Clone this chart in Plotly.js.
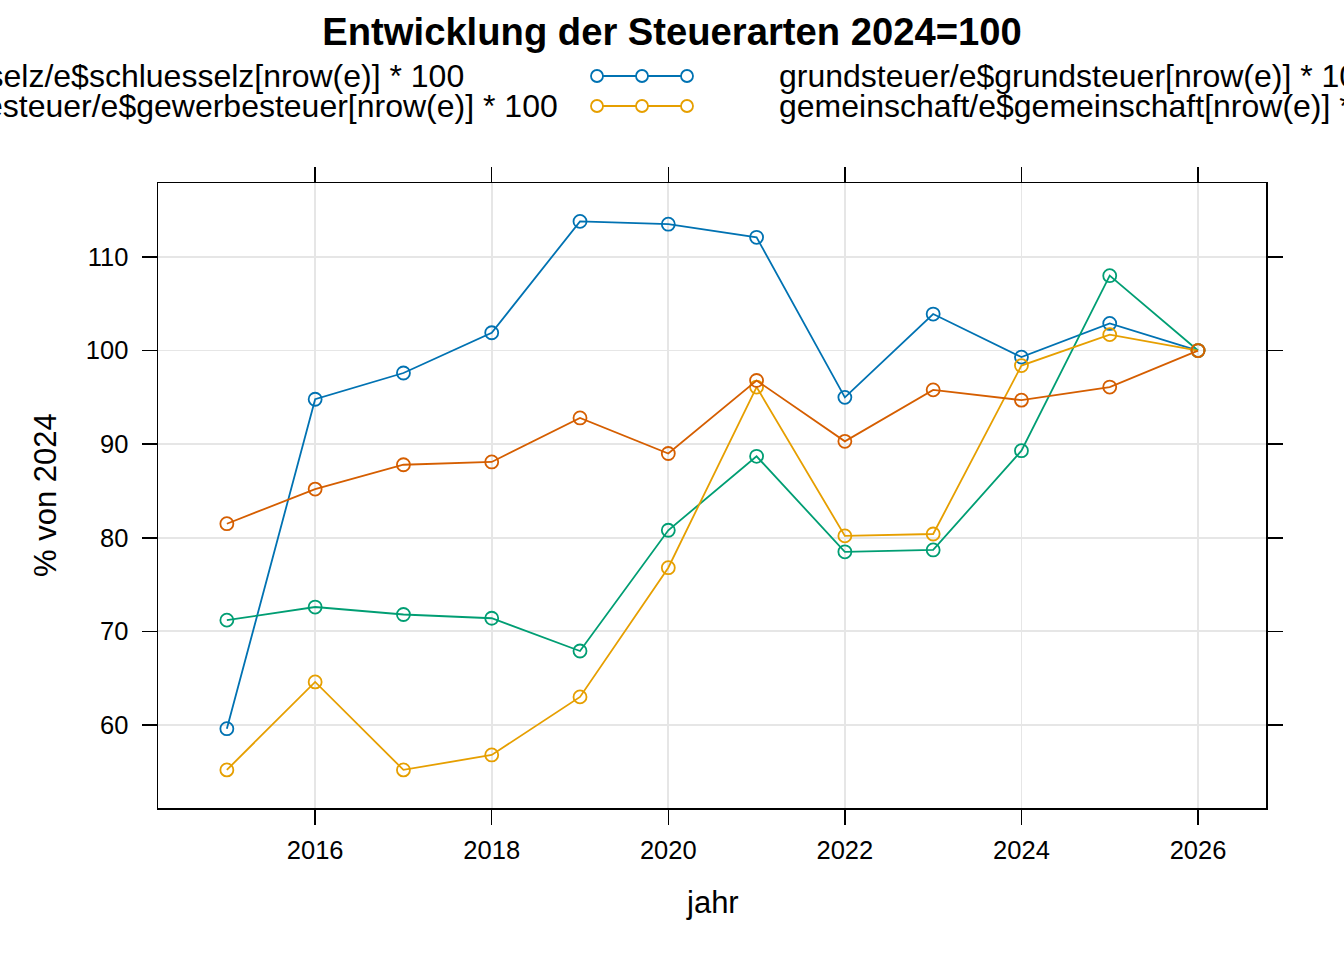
<!DOCTYPE html>
<html><head><meta charset="utf-8">
<script src="https://cdn.plot.ly/plotly-3.0.1.min.js"></script>
<style>html,body{margin:0;padding:0;background:#fff}#chart{width:1344px;height:960px}</style>
</head><body><div id="chart"></div><script>
const jahr = [2015, 2016, 2017, 2018, 2019, 2020, 2021, 2022, 2023, 2024, 2025, 2026];
const schluesselz = [59.6, 94.8, 97.6, 101.9, 113.8, 113.5, 112.1, 95.0, 103.9, 99.3, 102.9, 100];
const grundsteuer = [71.2, 72.6, 71.8, 71.4, 67.9, 80.8, 88.7, 78.5, 78.7, 89.3, 108.0, 100];
const gewerbesteuer = [55.2, 64.6, 55.2, 56.8, 63.0, 76.8, 96.1, 80.2, 80.4, 98.4, 101.7, 100];
const gemeinschaft = [81.5, 85.2, 87.8, 88.1, 92.8, 89.0, 96.8, 90.3, 95.8, 94.7, 96.1, 100];
const seriesNames = [
  "schluesselz/e$schluesselz[nrow(e)] * 100",
  "grundsteuer/e$grundsteuer[nrow(e)] * 100",
  "gewerbesteuer/e$gewerbesteuer[nrow(e)] * 100",
  "gemeinschaft/e$gemeinschaft[nrow(e)] * 100"
];
const seriesColors = ["#0072B2", "#009E73", "#E69F00", "#D55E00"];
const xTicks = [2016, 2018, 2020, 2022, 2024, 2026];
const yTicks = [60, 70, 80, 90, 100, 110];
const titleText = "Entwicklung der Steuerarten 2024=100";
const xTitle = "jahr";
const yTitle = "% von 2024";

const W = 1344, H = 960;
const FONT = "Liberation Sans, Arial, Helvetica, sans-serif";
const px = v => v / W;
const py = v => 1 - v / H;

const seriesValues = [schluesselz, grundsteuer, gewerbesteuer, gemeinschaft];
const traces = seriesValues.map((vals, i) => ({
  type: "scatter", mode: "lines+markers", x: jahr, y: vals, name: seriesNames[i],
  line: {color: seriesColors[i], width: 1.8},
  marker: {symbol: "circle-open", size: 13, color: seriesColors[i], line: {width: 1.8, color: seriesColors[i]}},
  showlegend: false, cliponaxis: false
}));

// manual legend (lattice style, clipped at page edges like the reference)
const legendRows = [76, 106];
const shapes = [];
const annotations = [];
const LEGEND_SIZE = 32;
[0, 2].forEach((si, r) => {
  annotations.push({xref: "paper", yref: "paper", x: px([466, 560][r]), y: py(legendRows[r]),
    xanchor: "right", yanchor: "middle", showarrow: false, text: seriesNames[si],
    font: {family: FONT, size: LEGEND_SIZE, color: "#000"}});
  shapes.push({type: "line", xref: "paper", yref: "paper", x0: px(597), x1: px(687), y0: py(legendRows[r]), y1: py(legendRows[r]),
    line: {color: seriesColors[si], width: 1.8}});
  [597, 642, 687].forEach(cx => shapes.push({type: "circle", xref: "paper", yref: "paper",
    xsizemode: "pixel", ysizemode: "pixel", xanchor: px(cx), yanchor: py(legendRows[r]),
    x0: -6, x1: 6, y0: -6, y1: 6, fillcolor: "white", line: {color: seriesColors[si], width: 1.8}}));
});
[1, 3].forEach((si, r) => {
  annotations.push({xref: "paper", yref: "paper", x: px(777), y: py(legendRows[r]),
    xanchor: "left", yanchor: "middle", showarrow: false, text: seriesNames[si],
    font: {family: FONT, size: LEGEND_SIZE, color: "#000"}});
});
annotations.push({xref: "paper", yref: "paper", x: px(712), y: py(902), xanchor: "center", yanchor: "middle",
  showarrow: false, text: xTitle, font: {family: FONT, size: 31, color: "#000"}});
annotations.push({xref: "paper", yref: "paper", x: px(45), y: py(495), xanchor: "center", yanchor: "middle",
  showarrow: false, text: yTitle, textangle: -90, font: {family: FONT, size: 31, color: "#000"}});

const axisCommon = {
  showline: true, linecolor: "#000", linewidth: 1.5, mirror: "allticks",
  ticks: "outside", ticklen: 15, tickwidth: 1.5, tickcolor: "#000",
  showgrid: true, gridcolor: "#e6e6e6", gridwidth: 1.8, zeroline: false,
  tickfont: {family: FONT, size: 25.5, color: "#000"}, automargin: false, fixedrange: true
};

const layout = {
  width: W, height: H, margin: {l: 0, r: 0, t: 0, b: 0}, paper_bgcolor: "#fff", plot_bgcolor: "#fff",
  showlegend: false,
  title: {text: "<b>" + titleText + "</b>", x: 0.5, xanchor: "center", y: py(32), yanchor: "middle", yref: "container",
    font: {family: FONT, size: 38.2, color: "#000"}},
  xaxis: Object.assign({}, axisCommon, {domain: [px(158), px(1266)], range: [2014.22, 2026.77],
    tickmode: "array", tickvals: xTicks, ticktext: xTicks.map(String), ticklabelstandoff: 4}),
  yaxis: Object.assign({}, axisCommon, {domain: [py(808), py(183)], range: [51.13, 117.9],
    tickmode: "array", tickvals: yTicks, ticktext: yTicks.map(String), ticklabelstandoff: 8}),
  shapes: shapes, annotations: annotations
};
Plotly.newPlot("chart", traces, layout, {staticPlot: true, displayModeBar: false});
</script></body></html>
